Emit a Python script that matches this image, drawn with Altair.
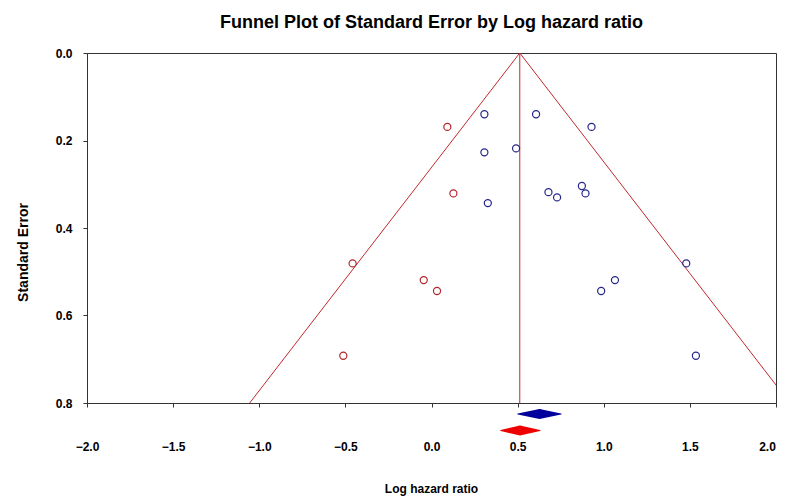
import altair as alt
import pandas as pd

# ---- data ----
observed_lhr = [0.307, 0.607, 0.929, 0.307, 0.491, 0.327, 0.679, 0.729, 0.873, 0.894,
                1.065, 0.985, 1.479, 1.535]
observed_se = [0.140, 0.140, 0.169, 0.227, 0.218, 0.343, 0.318, 0.330, 0.304, 0.321,
               0.519, 0.544, 0.481, 0.692]
imputed_lhr = [0.092, 0.127, -0.458, -0.045, 0.032, -0.512]
imputed_se = [0.169, 0.321, 0.481, 0.519, 0.544, 0.692]

adjusted_estimate = 0.5125
observed_diamond = [0.501, 0.627, 0.752]   # lower, estimate, upper
adjusted_diamond = [0.402, 0.514, 0.630]

x_ticks = [-2.0, -1.5, -1.0, -0.5, 0.0, 0.5, 1.0, 1.5, 2.0]
y_ticks = [0.0, 0.2, 0.4, 0.6, 0.8]
se_max = 0.8
z = 1.96

FONT = "Liberation Sans"

obs_df = pd.DataFrame({"lhr": observed_lhr, "se": observed_se})
imp_df = pd.DataFrame({"lhr": imputed_lhr, "se": imputed_se})

funnel_df = pd.DataFrame({
    "lhr": [adjusted_estimate, adjusted_estimate - z * se_max,
            adjusted_estimate, adjusted_estimate + z * se_max,
            adjusted_estimate, adjusted_estimate],
    "se": [0.0, se_max, 0.0, se_max, 0.0, se_max],
    "side": ["left", "left", "right", "right", "mid", "mid"],
    "k": [0, 1, 0, 1, 0, 1],
})

def diamond_df(vals):
    return pd.DataFrame({"lhr": vals, "w": [0, 10, 0], "k": [0, 1, 2]})

xscale = alt.Scale(domain=[-2, 2], nice=False, zero=False)
yscale = alt.Scale(domain=[0, 0.8], reverse=True, nice=False, zero=False)

xaxis = alt.Axis(values=x_ticks, format=".1f", tickSize=4, labelPadding=34,
                 labelOffset={"condition": {"test": "datum.value >= 2", "value": -9},
                              "value": 0},
                 title="Log hazard ratio", titleFontSize=12, titleFont=FONT,
                 titleFontWeight="bold", titleX=344, titleY=89,
                 titleBaseline="alphabetic", titleAlign="center")
yaxis = alt.Axis(values=y_ticks, format=".1f", tickSize=4, labelPadding=11,
                 title="Standard Error", titleFontSize=14, titleFont=FONT,
                 titleFontWeight="bold", titleX=-64, titleY=199,
                 titleAlign="center", titleBaseline="middle", titleAngle=-90)

funnel = alt.Chart(funnel_df).mark_line(color="#c0282d", strokeWidth=1, clip=True).encode(
    x=alt.X("lhr:Q", scale=xscale, axis=xaxis),
    y=alt.Y("se:Q", scale=yscale, axis=yaxis),
    detail="side:N",
    order="k:O",
)

obs_pts = alt.Chart(obs_df).mark_point(shape="circle", filled=False, color="#26268a",
                                       size=50, strokeWidth=1.2, opacity=1).encode(
    x=alt.X("lhr:Q", scale=xscale), y=alt.Y("se:Q", scale=yscale))
imp_pts = alt.Chart(imp_df).mark_point(shape="circle", filled=False, color="#b3262b",
                                       size=50, strokeWidth=1.2, opacity=1).encode(
    x=alt.X("lhr:Q", scale=xscale), y=alt.Y("se:Q", scale=yscale))

obs_diamond = alt.Chart(diamond_df(observed_diamond)).mark_trail(color="#00009c").encode(
    x=alt.X("lhr:Q", scale=xscale), y=alt.value(361),
    size=alt.Size("w:Q", scale=None), order="k:O")
adj_diamond = alt.Chart(diamond_df(adjusted_diamond)).mark_trail(color="#ee0000").encode(
    x=alt.X("lhr:Q", scale=xscale), y=alt.value(377.5),
    size=alt.Size("w:Q", scale=None), order="k:O")

chart = alt.layer(funnel, obs_pts, imp_pts, obs_diamond, adj_diamond).properties(
    width=689, height=350,
    autosize=alt.AutoSizeParams(type="none"),
    padding={"left": 79, "top": 45, "right": 2, "bottom": 100},
    title=alt.TitleParams("Funnel Plot of Standard Error by Log hazard ratio",
                          font=FONT, fontSize=18, fontWeight="bold", color="black",
                          anchor="middle", frame="group", baseline="alphabetic",
                          offset=1),
).configure_view(stroke="#333333", strokeWidth=1).configure_axis(
    grid=False, labelFont=FONT, labelFontSize=12, labelFontWeight="bold",
    labelColor="black", titleColor="black", domainColor="#333333",
    tickColor="#333333", labelFlush=False, labelOverlap=False,
)

chart.save("out.html", embed_options={"renderer": "svg", "actions": False})
